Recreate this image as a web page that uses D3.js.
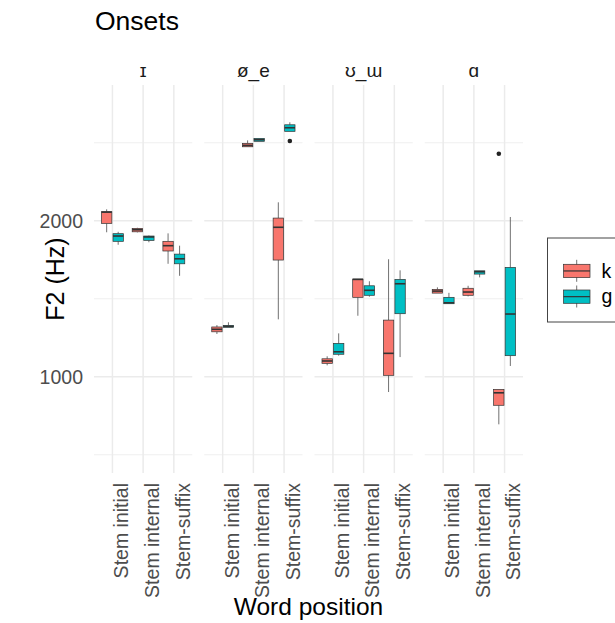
<!DOCTYPE html>
<html>
<head>
<meta charset="utf-8">
<script src="https://cdn.jsdelivr.net/npm/d3@7"></script>
<style>
  html, body { margin: 0; padding: 0; background: #fff; }
  svg { display: block; font-family: "Liberation Sans", Arial, sans-serif; }
</style>
</head>
<body>
<svg id="chart" width="615" height="623"></svg>
<script>
// Facets (vowel context), x categories, and fill groups
const vowels = ["ɪ", "ø_e", "ʊ_ɯ", "ɑ"];
const positions = ["Stem initial", "Stem internal", "Stem-suffix"];
const consonants = ["k", "g"];
const fills = ["#F8766D", "#00BFC4"];

// Box statistics per vowel (row groups) and position:
// [lower whisker, Q1, median, Q3, upper whisker] in Hz
const kBoxes = [
  [[1926, 1983, 2055, 2058, 2073], [1925, 1929, 1942, 1951, 1955], [1724, 1806, 1840, 1868, 1919]],
  [[1274, 1288, 1304, 1319, 1331], [2474, 2474, 2483, 2496, 2515], [1368, 1748, 1958, 2017, 2118]],
  [[1073, 1086, 1101, 1115, 1131], [1391, 1509, 1624, 1626, 1626], [902, 1009, 1150, 1363, 1753]],
  [[1536, 1536, 1549, 1560, 1573], [1515, 1522, 1543, 1567, 1583], [695, 817, 897, 919, 919]]
];
const gBoxes = [
  [[1846, 1868, 1902, 1917, 1929], [1862, 1874, 1896, 1902, 1905], [1647, 1724, 1756, 1786, 1840]],
  [[1317, 1317, 1323, 1329, 1349], [2509, 2509, 2519, 2528, 2528], [2573, 2573, 2596, 2615, 2631]],
  [[1135, 1144, 1160, 1214, 1278], [1513, 1522, 1554, 1583, 1612], [1126, 1404, 1596, 1624, 1682]],
  [[1468, 1468, 1474, 1509, 1538], [1637, 1658, 1673, 1679, 1679], [1069, 1135, 1402, 1701, 2024]]
];
// Outlying tokens: [vowel, position, consonant, Hz]
const outliers = [
  ["ø_e", "Stem-suffix", "g", 2511],
  ["ɑ", "Stem-suffix", "k", 2429]
];

const yMajor = [1000, 2000];
const yMinor = [500, 1500, 2500];

const svg = d3.select("#chart");
const panelLeft = 94, panelRight = 523, gap = 12;
const panelTop = 85, panelBottom = 473;
const panelW = (panelRight - panelLeft - gap * (vowels.length - 1)) / vowels.length;

const facet = d3.scaleBand().domain(vowels)
  .range([panelLeft, panelRight + gap]).paddingInner(0).paddingOuter(0);
const x = d3.scalePoint().domain(positions).range([0, panelW]).padding(0.6);
const step = x.step();
const dodge = d3.scaleOrdinal().domain(consonants).range([-0.1875 * step, 0.1875 * step]);
const boxW = 0.3375 * step;
const color = d3.scaleOrdinal().domain(consonants).range(fills);
const y = d3.scaleLinear().domain([383, 2870]).range([panelBottom, panelTop]);

// Title
svg.append("text").attr("x", 95).attr("y", 30)
  .attr("font-size", 26.5).attr("fill", "#000").text("Onsets");

// Panels
vowels.forEach((v, vi) => {
  const g = svg.append("g").attr("transform", `translate(${facet(v)},0)`);

  // grid
  g.selectAll(".minor").data(yMinor).join("line")
    .attr("x1", 0).attr("x2", panelW)
    .attr("y1", d => y(d)).attr("y2", d => y(d))
    .attr("stroke", "#ebebeb").attr("stroke-width", 0.8);
  g.selectAll(".major").data(yMajor).join("line")
    .attr("x1", 0).attr("x2", panelW)
    .attr("y1", d => y(d)).attr("y2", d => y(d))
    .attr("stroke", "#ebebeb").attr("stroke-width", 1.5);
  g.selectAll(".vgrid").data(positions).join("line")
    .attr("x1", d => x(d)).attr("x2", d => x(d))
    .attr("y1", panelTop).attr("y2", panelBottom)
    .attr("stroke", "#ebebeb").attr("stroke-width", 1.5);

  // strip label
  g.append("text").attr("x", panelW / 2).attr("y", 76.5)
    .attr("text-anchor", "middle").attr("font-size", 19).attr("fill", "#1a1a1a").text(v);

  // boxes
  const rows = [];
  positions.forEach((p, pi) => {
    rows.push({ p, c: "k", s: kBoxes[vi][pi] });
    rows.push({ p, c: "g", s: gBoxes[vi][pi] });
  });
  rows.forEach(r => {
    const cx = x(r.p) + dodge(r.c);
    const [lo, q1, med, q3, hi] = r.s;
    const bx = g.append("g");
    bx.append("line").attr("x1", cx).attr("x2", cx).attr("y1", y(hi)).attr("y2", y(q3))
      .attr("stroke", "#333").attr("stroke-width", 0.7);
    bx.append("line").attr("x1", cx).attr("x2", cx).attr("y1", y(q1)).attr("y2", y(lo))
      .attr("stroke", "#333").attr("stroke-width", 0.7);
    bx.append("rect").attr("x", cx - boxW / 2).attr("width", boxW)
      .attr("y", y(q3)).attr("height", Math.max(0.5, y(q1) - y(q3)))
      .attr("fill", color(r.c)).attr("stroke", "#333").attr("stroke-width", 0.7);
    bx.append("line").attr("x1", cx - boxW / 2).attr("x2", cx + boxW / 2)
      .attr("y1", y(med)).attr("y2", y(med))
      .attr("stroke", "#333").attr("stroke-width", 1.6);
  });

  outliers.filter(o => o[0] === v).forEach(o => {
    g.append("circle").attr("cx", x(o[1]) + dodge(o[2])).attr("cy", y(o[3]))
      .attr("r", 2.3).attr("fill", "#222");
  });

  // x tick labels
  g.selectAll(".xl").data(positions).join("text")
    .attr("transform", d => `translate(${x(d) + 9},483) rotate(-90)`)
    .attr("dy", "0.35em")
    .attr("text-anchor", "end").attr("font-size", 19.5).attr("fill", "#4d4d4d")
    .text(d => d);
});

// y tick labels
svg.selectAll(".yl").data(yMajor).join("text")
  .attr("x", 83).attr("y", d => y(d)).attr("dy", "0.35em")
  .attr("text-anchor", "end").attr("font-size", 19.5).attr("fill", "#4d4d4d")
  .text(d => d);

// axis titles
svg.append("text").attr("transform", `translate(64,${(panelTop + panelBottom) / 2}) rotate(-90)`)
  .attr("text-anchor", "middle").attr("font-size", 25).attr("fill", "#000").text("F2 (Hz)");
svg.append("text").attr("x", (panelLeft + panelRight) / 2).attr("y", 615)
  .attr("text-anchor", "middle").attr("font-size", 24.5).attr("fill", "#000").text("Word position");

// legend
const lg = svg.append("g");
lg.append("rect").attr("x", 547.5).attr("y", 238).attr("width", 80).attr("height", 84)
  .attr("fill", "#fff").attr("stroke", "#444").attr("stroke-width", 1);
consonants.forEach((c, i) => {
  const top = 264.3 + i * 25.7;
  const cx = 576.7;
  lg.append("line").attr("x1", cx).attr("x2", cx).attr("y1", top - 4.5).attr("y2", top + 17.5)
    .attr("stroke", "#333").attr("stroke-width", 0.7);
  lg.append("rect").attr("x", 563.5).attr("y", top).attr("width", 26.5).attr("height", 13.3)
    .attr("fill", color(c)).attr("stroke", "#333").attr("stroke-width", 0.7);
  lg.append("line").attr("x1", 563.5).attr("x2", 590).attr("y1", top + 6.65).attr("y2", top + 6.65)
    .attr("stroke", "#333").attr("stroke-width", 1.2);
  lg.append("text").attr("x", 601.5).attr("y", top + 6.65).attr("dy", "0.35em")
    .attr("font-size", 19.5).attr("fill", "#000").text(c);
});
</script>
</body>
</html>
